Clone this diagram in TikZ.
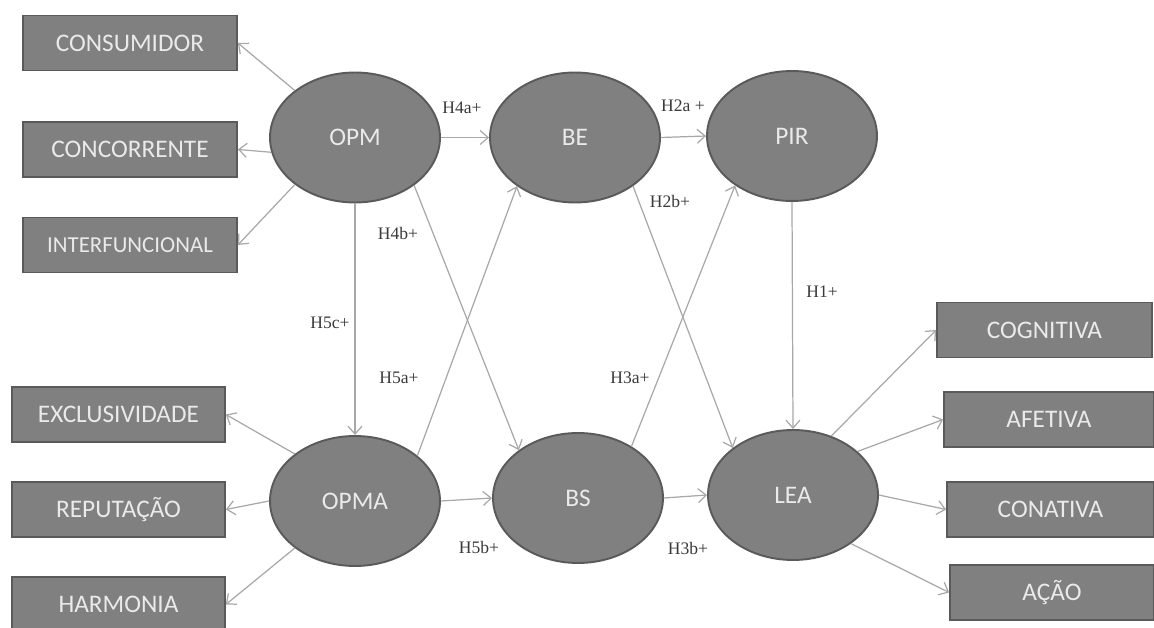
\documentclass[tikz,border=0pt]{standalone}
\usepackage{fontspec}
\setmainfont{Liberation Serif}
\newfontfamily\boxfont{Carlito}
\usetikzlibrary{arrows.meta}
\usetikzlibrary{shapes.geometric}

\definecolor{fillgray}{HTML}{808080}
\definecolor{edgegray}{HTML}{5A5A5A}
\definecolor{linkgray}{HTML}{A8A8A8}
\definecolor{labelgray}{HTML}{3A3A3A}
\definecolor{textwhite}{HTML}{EAEAEA}

\tikzset{
  construct/.style={ellipse, draw=edgegray, line width=1.1pt, fill=fillgray,
    minimum width=3.4cm, minimum height=2.6cm, inner sep=0pt,
    text=textwhite, font=\boxfont\fontsize{14.4}{16}\selectfont},
  indicator/.style={rectangle, draw=edgegray, line width=1pt, fill=fillgray,
    minimum height=1.1cm, inner sep=0pt,
    text=textwhite, font=\boxfont\fontsize{14.4}{16}\selectfont},
  link/.style={draw=linkgray, line width=0.7pt, -{Straight Barb[length=1.6mm,width=2.8mm]}},
  hyp/.style={text=labelgray, font=\fontsize{10}{12}\selectfont, inner sep=1pt}
}

\begin{document}
\begin{tikzpicture}[x=0.02cm, y=-0.02cm]
    \useasboundingbox (0,0) rectangle (1154,628);

    % Constructs
    \node[construct] (opm)  at (355,137.5) {OPM};
    \node[construct] (be)   at (575,137.5) {BE};
    \node[construct] (pir)  at (792,136)   {PIR};
    \node[construct] (opma) at (355,501)   {OPMA};
    \node[construct] (bs)   at (578,498)   {BS};
    \node[construct] (lea)  at (793,495)   {LEA};

    % Indicators of OPM
    \node[indicator, minimum width=4.28cm] (consumidor)  at (130,43)    {CONSUMIDOR};
    \node[indicator, minimum width=4.28cm] (concorrente) at (130,149.5) {CONCORRENTE};
    \node[indicator, minimum width=4.28cm, font=\boxfont\fontsize{13}{15}\selectfont]
        (interfuncional) at (130,245) {INTERFUNCIONAL};

    % Indicators of OPMA
    \foreach \name/\txt/\y in {exclusividade/EXCLUSIVIDADE/414.5, reputacao/REPUTAÇÃO/509.5, harmonia/HARMONIA/604.5} {
        \node[indicator, minimum width=4.26cm] (\name) at (118.5,\y) {\txt};
    }

    % Indicators of LEA
    \node[indicator, minimum width=4.3cm]  (cognitiva) at (1044.5,330)   {COGNITIVA};
    \node[indicator, minimum width=4.2cm]  (afetiva)   at (1049,419.5)   {AFETIVA};
    \node[indicator, minimum width=4.14cm] (conativa)  at (1050.5,509.5) {CONATIVA};
    \node[indicator, minimum width=4.08cm] (acao)      at (1052,592.5)   {AÇÃO};

    % Measurement links
    \foreach \a/\b in {opm.142.5/consumidor.east, opm.190/concorrente.east, opm.218.6/interfuncional.east,
                       opma.142/exclusividade.east, opma.west/reputacao.east, opma.218/harmonia.east,
                       lea.57/cognitiva.west, lea.34/afetiva.west, lea.east/conativa.west, lea.-40/acao.west} {
        \draw[link] (\a) -- (\b);
    }

    % Structural paths
    \draw[link] (opm.east) -- (be.west);
    \draw[link] (be.east) -- (pir.west);
    \draw[link] (opm.south) -- (opma.north);
    \draw[link] (opm.321) -- (bs.141);
    \draw[link] (opma.36) -- (be.220);
    \draw[link] (be.320) -- (lea.142);
    \draw[link] (bs.44) -- (pir.221);
    \draw[link] (pir.south) -- (lea.north);
    \draw[link] (opma.east) -- (bs.west);
    \draw[link] (bs.east) -- (lea.west);

    % Hypotheses
    \node[hyp] (h4a) at (462,108) {H4a+};
    \node[hyp] (h2a) at (683,106) {H2a +};
    \node[hyp] (h2b) at (670,201) {H2b+};
    \node[hyp] (h4b) at (398,233) {H4b+};
    \node[hyp] (h5c) at (330,323) {H5c+};
    \node[hyp] (h5a) at (399,378) {H5a+};
    \node[hyp] (h3a) at (630,378) {H3a+};
    \node[hyp] (h1)  at (822,292) {H1+};
    \node[hyp] (h5b) at (479,547) {H5b+};
    \node[hyp] (h3b) at (688,548) {H3b+};

\end{tikzpicture}
\end{document}
